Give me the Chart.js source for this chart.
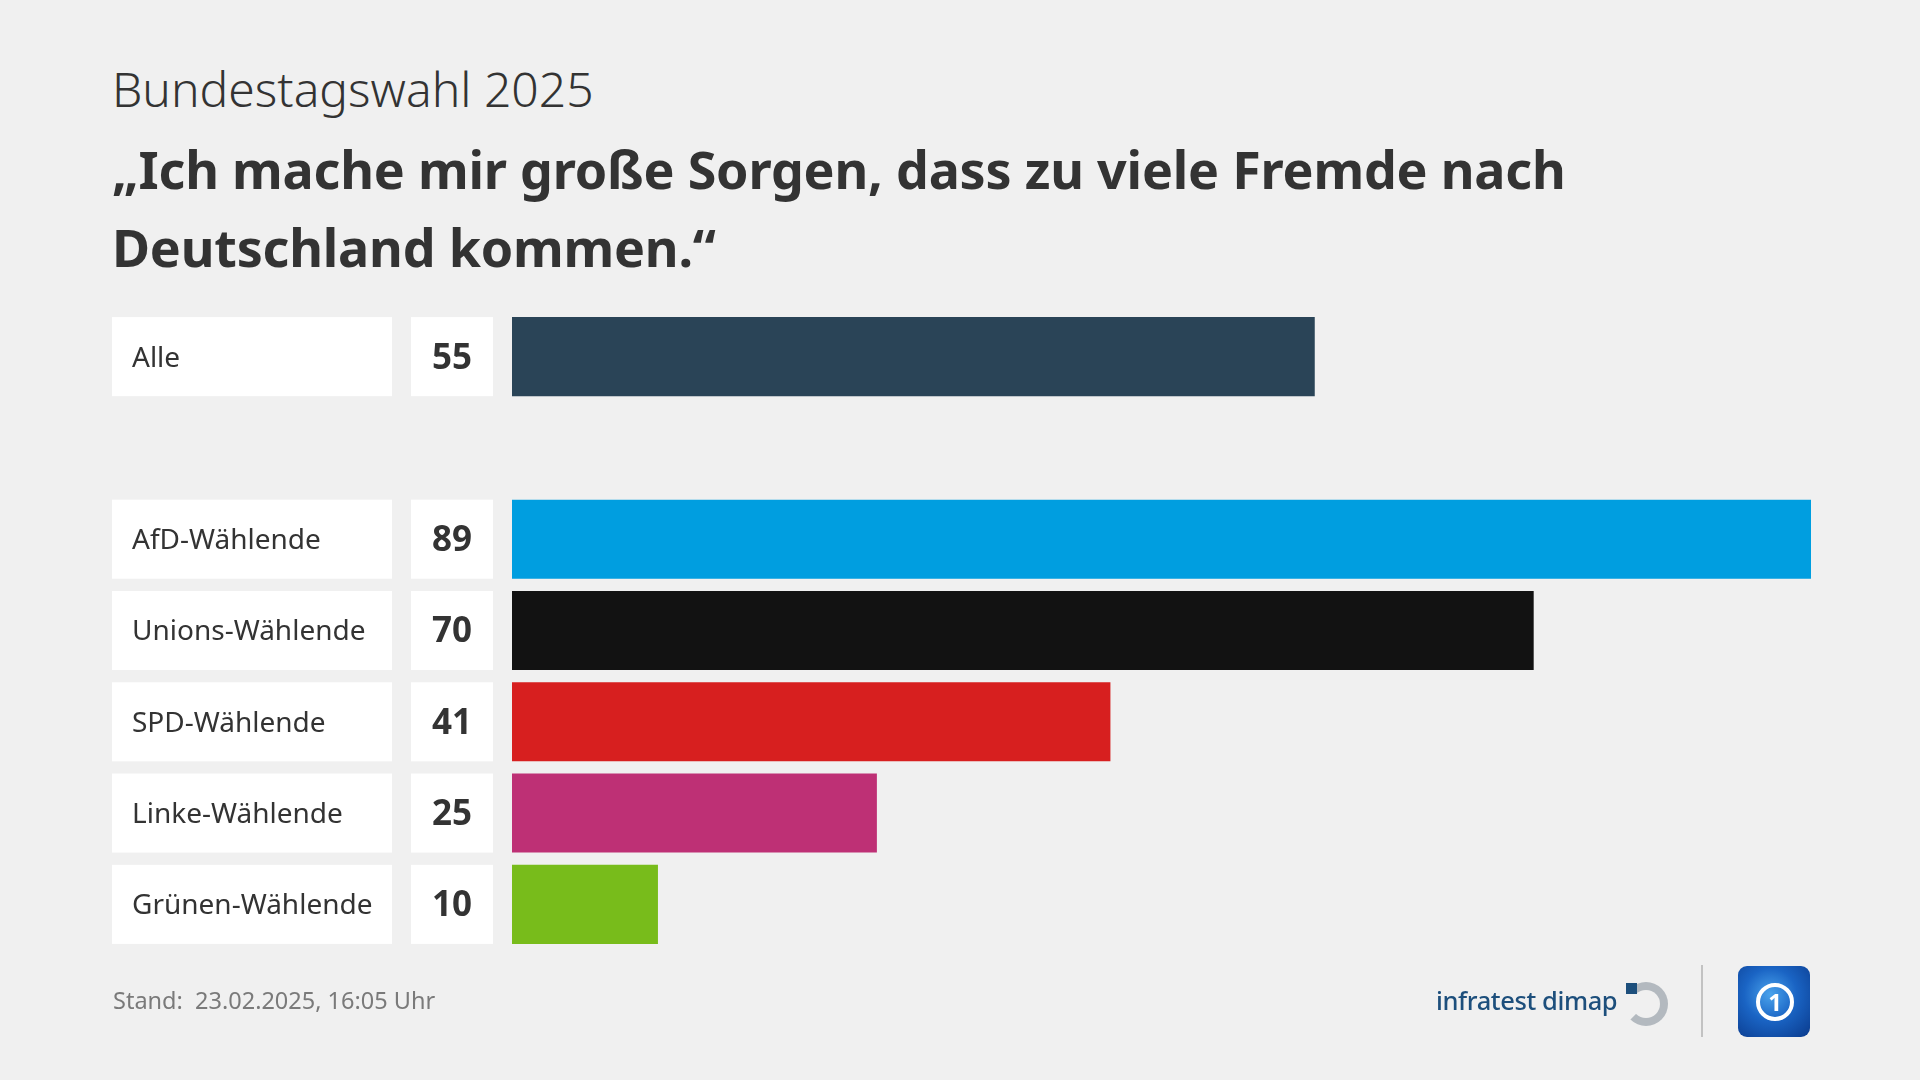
<!DOCTYPE html>
<html lang="de">
<head>
<meta charset="utf-8">
<title>Bundestagswahl 2025</title>
<script src="https://cdn.jsdelivr.net/npm/chart.js@4"></script>
<style>
    html, body { margin: 0; padding: 0; background: #f0f0f0; }
    #wrap { position: relative; width: 1920px; height: 1080px; overflow: hidden; font-family: "Noto Sans", sans-serif; }
    #chart { position: absolute; left: 0; top: 0; }
    .kicker { position: absolute; left: 112px; top: 56px; font-size: 48px; font-weight: 300; color: #333; }
    .headline { position: absolute; left: 112px; top: 130px; width: 1700px; font-size: 52px; font-weight: 700; line-height: 78px; color: #333; letter-spacing: -0.2px; }
    .stand { position: absolute; left: 113px; top: 984px; font-size: 23.5px; color: #7a7a7a; white-space: pre; }
    .infratest { position: absolute; left: 1436px; top: 983px; font-size: 25.5px; font-weight: 500; color: #1d4f7c; letter-spacing: -0.4px; }
    .idlogo { position: absolute; left: 1624px; top: 982px; width: 44px; height: 44px; }
    .idlogo .ring { position: absolute; left: 0; top: 0; width: 28px; height: 28px; border: 8px solid #b3b9bf; border-left-color: transparent; border-radius: 50%; }
    .idlogo .sq { position: absolute; left: 2px; top: 1px; width: 11px; height: 11px; background: #1d4f7c; }
    .divider { position: absolute; left: 1701px; top: 965px; width: 2px; height: 72px; background: #c2c2c2; }
    .ard { position: absolute; left: 1738px; top: 966px; width: 72px; height: 71px; border-radius: 9px;
           background: radial-gradient(circle at 45% 40%, #4aa3ec 0%, #1a64c4 45%, #0a3a8c 100%); }
    .ard .globe { position: absolute; left: 18px; top: 17px; width: 30px; height: 30px; border: 4px solid #fff; border-radius: 50%;
           color: #fff; font: 700 24px "Noto Sans", sans-serif; text-align: center; line-height: 30px; }
</style>
</head>
<body>
<div id="wrap">
    <div class="kicker">Bundestagswahl 2025</div>
    <div class="headline">„Ich mache mir große Sorgen, dass zu viele Fremde nach Deutschland kommen.“</div>
    <canvas id="chart" width="1920" height="1080"></canvas>
    <div class="stand">Stand:  23.02.2025, 16:05 Uhr</div>
    <div class="infratest">infratest dimap</div>
    <div class="idlogo"><div class="ring"></div><div class="sq"></div></div>
    <div class="divider"></div>
    <div class="ard"><div class="globe">1</div></div>
</div>
<script>
// Chart data (empty slot separates "Alle" from the party groups)
var categories = ['Alle', '', 'AfD-Wählende', 'Unions-Wählende', 'SPD-Wählende', 'Linke-Wählende', 'Grünen-Wählende'];
var values = [55, null, 89, 70, 41, 25, 10];
var barColors = ['#2a4457', 'rgba(0,0,0,0)', '#009ee0', '#121212', '#d71f1f', '#be3075', '#78bc1b'];

var maxValue = Math.max.apply(null, values.filter(function(v) { return v !== null; }));

/**
 * Draw the white label and value boxes left of each bar
 */
var labelBoxes = {
    id: 'labelBoxes',
    afterDatasetsDraw: function(chart) {
        var ctx = chart.ctx;
        var meta = chart.getDatasetMeta(0);
        ctx.save();
        meta.data.forEach(function(bar, i) {
            if (values[i] === null) return;
            var h = bar.height;
            var top = bar.y - h / 2;

            ctx.fillStyle = '#ffffff';
            ctx.fillRect(112, top, 280, h);
            ctx.fillRect(411, top, 82, h);

            ctx.fillStyle = '#333333';
            ctx.textBaseline = 'middle';
            ctx.textAlign = 'left';
            ctx.font = '28px "Noto Sans"';
            ctx.fillText(categories[i], 132, bar.y + 2);

            ctx.textAlign = 'center';
            ctx.font = 'bold 35px "Noto Sans"';
            ctx.fillText(String(values[i]), 452, bar.y + 2);
        });
        ctx.restore();
    }
};

var chart = new Chart(document.getElementById('chart').getContext('2d'), {
    type: 'bar',
    data: {
        labels: categories,
        datasets: [{
            data: values,
            backgroundColor: barColors,
            borderWidth: 0,
            categoryPercentage: 1,
            barPercentage: 0.866
        }]
    },
    options: {
        indexAxis: 'y',
        responsive: false,
        animation: false,
        layout: {
            padding: { left: 512, right: 109, top: 311, bottom: 130 }
        },
        plugins: {
            legend: { display: false },
            tooltip: { enabled: false }
        },
        scales: {
            x: { display: false, min: 0, max: maxValue, grid: { display: false } },
            y: { display: false, grid: { display: false } }
        }
    },
    plugins: [labelBoxes]
});
</script>
</body>
</html>
